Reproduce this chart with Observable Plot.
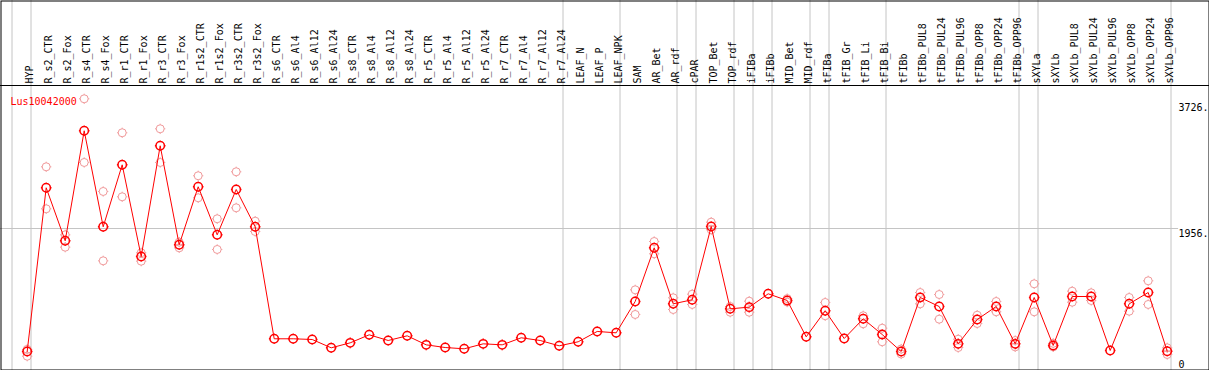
<!DOCTYPE html>
<html>
<head>
<meta charset="utf-8">
<script src="https://cdn.jsdelivr.net/npm/d3@7"></script>
<script src="https://cdn.jsdelivr.net/npm/@observablehq/plot@0.6"></script>
<style>
  html, body { margin: 0; padding: 0; background: #fff; }
</style>
</head>
<body>
<div id="chart"></div>
<script>
const gene = "Lus10042000";

const categories = [
  "HYP","R_s2_CTR","R_s2_Fox","R_s4_CTR","R_s4_Fox","R_r1_CTR","R_r1_Fox","R_r3_CTR","R_r3_Fox",
  "R_r1s2_CTR","R_r1s2_Fox","R_r3s2_CTR","R_r3s2_Fox",
  "R_s6_CTR","R_s6_Al4","R_s6_Al12","R_s6_Al24","R_s8_CTR","R_s8_Al4","R_s8_Al12","R_s8_Al24",
  "R_r5_CTR","R_r5_Al4","R_r5_Al12","R_r5_Al24","R_r7_CTR","R_r7_Al4","R_r7_Al12","R_r7_Al24",
  "LEAF_N","LEAF_P","LEAF_NPK","SAM","AR_Bet","AR_rdf","cPAR","TOP_Bet","TOP_rdf","iFIBa","iFIBb",
  "MID_Bet","MID_rdf","tFIBa","tFIB_Gr","tFIB_Li","tFIB_Bi","tFIBb",
  "tFIBb_PUL8","tFIBb_PUL24","tFIBb_PUL96","tFIBb_OPP8","tFIBb_OPP24","tFIBb_OPP96",
  "sXYLa","sXYLb","sXYLb_PUL8","sXYLb_PUL24","sXYLb_PUL96","sXYLb_OPP8","sXYLb_OPP24","sXYLb_OPP96"
];

// mean expression per sample
const meanValues = [
  225, 2529, 1783, 3331, 1980, 2852, 1562, 3120, 1727,
  2543, 1867, 2505, 1980,
  404, 404, 394, 277, 347, 460, 380, 446,
  319, 281, 263, 333, 319, 418, 380, 305,
  362, 507, 488, 929, 1684, 896, 953, 1984, 826, 849, 1037,
  943, 432, 798, 408, 685, 464, 225,
  985, 858, 333, 675, 858, 333,
  985, 310, 999, 999, 239, 896, 1055, 229
];

// replicate values (null where hidden behind the mean)
const replicate1 = [
  255, 2824, 1867, 3781, 2477, 3303, 1614, 3359, 1764,
  2698, 2093, 2754, 2059,
  null, null, null, null, null, null, null, null,
  null, null, null, null, null, null, null, null,
  null, null, null, 1093, 1773, 981, 1032, 2045, 858, 933, null,
  970, null, 915, null, 728, 553, 260,
  1055, 1027, 398, 736, 929, 380,
  1178, 340, 1074, 1051, null, 985, 1220, 277
];
const replicate2 = [
  159, 2233, 1693, 2885, 1501, 2402, 1496, 2885, 1684,
  2388, 1661, 2247, 1914,
  null, null, null, null, null, null, null, null,
  null, null, null, null, null, null, null, null,
  null, null, null, 746, 1600, 816, 887, 1938, 778, 778, null,
  920, null, 728, null, 615, 362, 190,
  896, 680, 281, 619, 784, 290,
  784, 290, 919, 943, null, 792, 887, 183
];

// the sample after which a vertical separator is drawn ("" = before the first)
const groupEnds = ["", "HYP", "R_r7_Al24", "LEAF_NPK", "AR_rdf", "cPAR", "TOP_rdf", "iFIBa",
  "iFIBb", "MID_rdf", "tFIBa", "tFIB_Bi", "tFIBb_OPP96", "sXYLa", "sXYLb_OPP96"];

const yTicks = [0, 1956, 3726];
const yTickLabels = ["0", "1956.", "3726."];

const meanData = categories.map((c, i) => ({i, c, v: meanValues[i]}));
const repData = [];
categories.forEach((c, i) => {
  [replicate1[i], replicate2[i]].forEach(v => { if (v != null) repData.push({i, c, v}); });
});
const breaks = groupEnds.map(g => categories.indexOf(g) + 0.2);
const tickData = yTicks.map((v, k) => ({v, label: yTickLabels[k]}));

// circle with four small ticks
const tickCircle = {
  draw(ctx, size) {
    const r = Math.sqrt(size / Math.PI), t = 1.1;
    ctx.moveTo(r, 0);
    ctx.arc(0, 0, r, 0, 2 * Math.PI);
    ctx.moveTo(0, -r); ctx.lineTo(0, -r - t);
    ctx.moveTo(0, r); ctx.lineTo(0, r + t);
    ctx.moveTo(-r, 0); ctx.lineTo(-r - t, 0);
    ctx.moveTo(r, 0); ctx.lineTo(r + t, 0);
  }
};

const W = 1209, H = 370;
const chart = Plot.plot({
  width: W,
  height: H,
  marginTop: 0, marginRight: 0, marginBottom: 0, marginLeft: 0,
  style: {fontFamily: "'DejaVu Sans Mono', 'Liberation Mono', monospace", fontSize: "10px", background: "#fff", overflow: "visible"},
  x: {type: "linear", domain: [0, categories.length - 1], range: [26.7, 1166.7], axis: null},
  y: {type: "linear", domain: [0, 3726], range: [367, 102.2], axis: null},
  marks: [
    Plot.ruleX(breaks, {x: d => d, stroke: "#c4c4c4", strokeWidth: 1}),
    Plot.ruleY([1956], {x1: -1.5, x2: 60.6, stroke: "#c4c4c4", strokeWidth: 1}),
    Plot.dot(repData, {x: "i", y: "v", r: 4, symbol: tickCircle, stroke: "#f0999a", strokeWidth: 1, fill: "none"}),
    Plot.line(meanData, {x: "i", y: "v", stroke: "#ff0000", strokeWidth: 1}),
    Plot.dot(meanData, {x: "i", y: "v", r: 4.2, symbol: tickCircle, stroke: "#ff0000", strokeWidth: 1.5, fill: "none"}),
    Plot.text(categories, {x: (d, i) => i, frameAnchor: "top", dy: 83, rotate: -90, textAnchor: "start", text: d => d, fill: "#000", dx: -1}),
    Plot.text([gene], {frameAnchor: "top-left", dx: 10, dy: 97, textAnchor: "start", text: d => d, fill: "#ff0000"}),
    Plot.text(tickData.filter(d => d.v > 0), {y: "v", frameAnchor: "right", dx: -31, textAnchor: "start", lineAnchor: "top", dy: 1, text: "label", fill: "#000"}),
    Plot.text(tickData.filter(d => d.v === 0), {y: "v", frameAnchor: "right", dx: -31, textAnchor: "start", lineAnchor: "bottom", dy: 0, text: "label", fill: "#000"}),
    Plot.frame({stroke: "#000", strokeWidth: 1, inset: 0.5})
  ]
});

// separator between sample labels and plotting area
d3.select(chart).append("line")
  .attr("x1", 0).attr("x2", W).attr("y1", 85.5).attr("y2", 85.5)
  .attr("stroke", "#000").attr("stroke-width", 1);

document.getElementById("chart").appendChild(chart);
</script>
</body>
</html>
